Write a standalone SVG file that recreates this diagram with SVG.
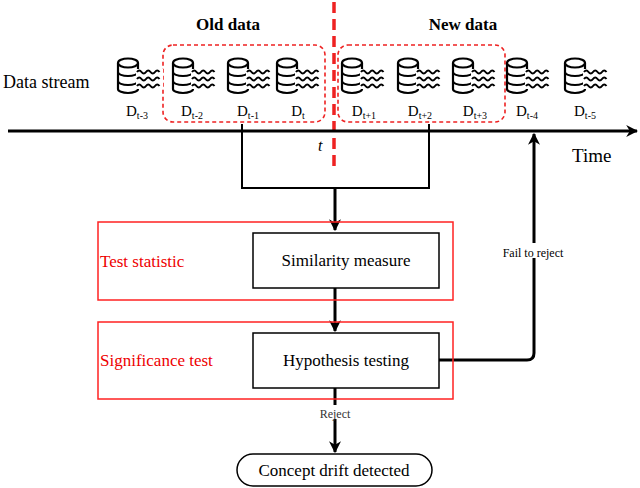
<svg xmlns="http://www.w3.org/2000/svg" xmlns:xlink="http://www.w3.org/1999/xlink" width="640" height="488" viewBox="0 0 640 488">
<style>
text{font-family:"Liberation Serif","Times New Roman","DejaVu Serif",Times,serif}
.b{font-weight:bold}
.lab{font-size:15px;text-anchor:middle}
.red{fill:#e00}
.cyl{fill:#fff;stroke:#000;stroke-width:2.2}
.wv{fill:none;stroke:#000;stroke-width:2}
.box{fill:#fff;stroke:#000;stroke-width:1.5}
.rbox{fill:none;stroke:#f22;stroke-width:1.5}
.ln{fill:none;stroke:#000;stroke-width:3}
</style>
<defs>
<marker id="ah" viewBox="0 0 10 10" refX="9" refY="5" markerWidth="4" markerHeight="4" orient="auto"><path d="M0,0 L10,5 L0,10 L3,5 z" fill="#000"/></marker>
<g id="db">
<path class="cyl" d="M0,5 L0,31 A10,4 0 0 0 20,31 L20,5"/>
<ellipse class="cyl" cx="10" cy="5" rx="10" ry="4.5"/>
<path class="wv" d="M0,14 A10,4 0 0 0 20,14 M0,23 A10,4 0 0 0 20,23"/>
<rect x="18" y="11" width="27" height="20" fill="#fff"/>
<path class="wv" d="M19,14 q2.25,-3 4.5,0 t4.5,0 t4.5,0 t4.5,0 t4.5,0 M19,21 q2.25,-3 4.5,0 t4.5,0 t4.5,0 t4.5,0 t4.5,0 M19,28 q2.25,-3 4.5,0 t4.5,0 t4.5,0 t4.5,0 t4.5,0"/>
</g>
</defs>
<text class="b" x="228" y="30" font-size="17" text-anchor="middle">Old data</text>
<text class="b" x="463" y="30" font-size="17" text-anchor="middle">New data</text>
<text x="3" y="88" font-size="18">Data stream</text>
<rect x="163" y="45" width="162" height="77" rx="10" fill="none" stroke="#e22" stroke-width="1.6" stroke-dasharray="4,3"/>
<rect x="338" y="45" width="167" height="77" rx="10" fill="none" stroke="#e22" stroke-width="1.6" stroke-dasharray="4,3"/>
<g id="d1"><use xlink:href="#db" x="118" y="58"/><text class="lab" x="137" y="116">D<tspan font-size="10" dy="3">t-3</tspan></text></g>
<g id="d2"><use xlink:href="#db" x="173" y="58"/><text class="lab" x="192" y="116">D<tspan font-size="10" dy="3">t-2</tspan></text></g>
<g id="d3"><use xlink:href="#db" x="228" y="58"/><text class="lab" x="248" y="116">D<tspan font-size="10" dy="3">t-1</tspan></text></g>
<g id="d4"><use xlink:href="#db" x="277" y="58"/><text class="lab" x="298" y="116">D<tspan font-size="10" dy="3">t</tspan></text></g>
<g id="d5"><use xlink:href="#db" x="342" y="58"/><text class="lab" x="364" y="116">D<tspan font-size="10" dy="3">t+1</tspan></text></g>
<g id="d6"><use xlink:href="#db" x="398" y="58"/><text class="lab" x="420" y="116">D<tspan font-size="10" dy="3">t+2</tspan></text></g>
<g id="d7"><use xlink:href="#db" x="453" y="58"/><text class="lab" x="475" y="116">D<tspan font-size="10" dy="3">t+3</tspan></text></g>
<g id="d8"><use xlink:href="#db" x="507" y="58"/><text class="lab" x="527" y="116">D<tspan font-size="10" dy="3">t-4</tspan></text></g>
<g id="d9"><use xlink:href="#db" x="565" y="58"/><text class="lab" x="585" y="116">D<tspan font-size="10" dy="3">t-5</tspan></text></g>
<line x1="334" y1="2" x2="334" y2="168" stroke="#e22" stroke-width="3.5" stroke-dasharray="11,6"/>
<text x="318" y="151" font-size="16" font-style="italic">t</text>
<text x="572" y="162" font-size="19">Time</text>
<g id="connectors">
<line class="ln" x1="8" y1="131" x2="637" y2="131" marker-end="url(#ah)" stroke-width="2.5"/>
<path d="M242,124 V188 H429 V124" fill="none" stroke="#000" stroke-width="2"/>
<line class="ln" x1="335" y1="188" x2="335" y2="230" marker-end="url(#ah)"/>
<line class="ln" x1="335" y1="288" x2="335" y2="331" marker-end="url(#ah)"/>
<path class="ln" d="M439,360 H527 Q534,360 534,353 V134" marker-end="url(#ah)"/>
<line class="ln" x1="335" y1="388" x2="335" y2="452" marker-end="url(#ah)"/>
</g>
<g id="ts"><rect class="rbox" x="98" y="222" width="355" height="78"/><text class="red" x="100" y="267" font-size="17">Test statistic</text></g>
<g id="sim"><rect class="box" x="253" y="233" width="186" height="55"/><text x="346" y="266" font-size="17" text-anchor="middle">Similarity measure</text></g>
<g id="sig"><rect class="rbox" x="98" y="322" width="355" height="77"/><text class="red" x="100" y="366" font-size="17">Significance test</text></g>
<g id="hyp"><rect class="box" x="253" y="333" width="186" height="55"/><text x="346" y="366" font-size="17" text-anchor="middle">Hypothesis testing</text></g>
<rect x="495" y="243" width="76" height="15" fill="#fff"/>
<text x="533" y="257" font-size="12" text-anchor="middle">Fail to reject</text>
<rect x="312" y="405" width="46" height="14" fill="#fff"/>
<text x="335" y="418" font-size="12" text-anchor="middle" fill="#333">Reject</text>
<g id="end"><rect class="box" x="237" y="454" width="195" height="32" rx="16"/><text x="334" y="476" font-size="17" text-anchor="middle">Concept drift detected</text></g>
</svg>
